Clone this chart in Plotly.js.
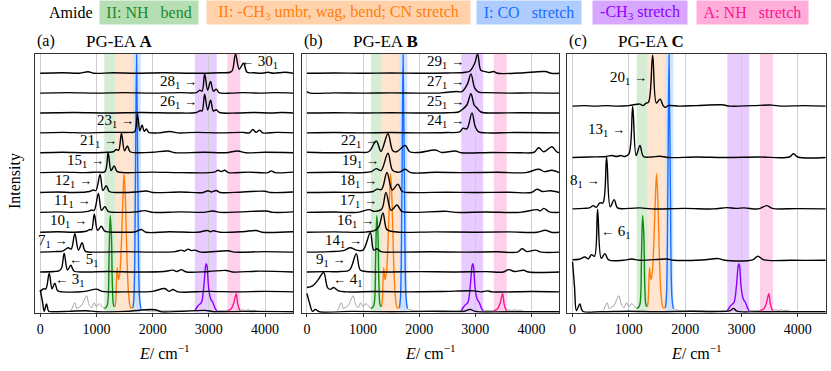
<!DOCTYPE html>
<html><head><meta charset="utf-8">
<script src="https://cdn.plot.ly/plotly-3.0.1.min.js"></script>
<style>html,body{margin:0;padding:0;background:#fff}#chart{width:831px;height:371px}</style>
</head><body><div id="chart"></div>
<script>
// ---------------- DATA ----------------
// Band limits (cm^-1) and names
const bandLo = [1140, 1330, 1650, 2750, 3330];
const bandHi = [1330, 1650, 1790, 3140, 3560];
const bandNames = ['II: NH\u00a0\u00a0\u00a0bend', 'II: -CH<sub>3</sub> umbr, wag, bend; CN stretch', 'I: CO\u00a0\u00a0\u00a0stretch', '-CH<sub>3</sub> stretch', 'A: NH\u00a0\u00a0\u00a0stretch'];

// IR reference spectrum [E, I]
const irSpec = [[540,0],[556,1],[615,8],[650,2],[675,3],[734,5],[793,12],[823,15],[870,6],[912,3],[960,8],[1000,4],[1049,7],[1090,5],[1119,3],[1140,2.5],[1165,3],[1195,6],[1225,55],[1245,95],[1267,75],[1284,25],[1308,5],[1330,4],[1344,10],[1368,43],[1391,31],[1415,37],[1439,60],[1470,110],[1492,137],[1516,110],[1545,50],[1575,15],[1610,3],[1650,3],[1668,14],[1693,122],[1714,256],[1738,122],[1765,14],[1790,2],[1900,0],[2300,0],[2750,0],[2807,5],[2866,8],[2908,23],[2943,45],[2955,47],[2967,45],[2996,23],[3031,12],[3073,8],[3114,2],[3140,0],[3330,0],[3398,2],[3445,8],[3487,17],[3516,6],[3546,1],[3560,0],[3600,1],[3650,0],[3700,1],[3750,0],[3800,0.5],[3850,0]];

// Panel A spectra (top to bottom) [E, I]
const a30 = [[0,0],[400,0.5],[700,0],[853,1.5],[950,0],[1300,0.5],[1700,0],[2200,0.5],[2700,0],[3200,0.5],[3380,1],[3420,3],[3475,19.5],[3540,4],[3617,10],[3680,1],[3800,0.5],[3950,0],[4050,1],[4150,0],[4350,1],[4500,0]];
const a28 = [[0,0],[500,0.5],[1000,0],[1500,0.5],[2000,0],[2500,0.5],[2780,0.5],[2840,3],[2880,2],[2925,19.5],[2978,3],[3031,11.7],[3080,2],[3132,4],[3180,0.5],[3400,0],[3600,0.5],[3900,0],[4200,0.5],[4500,0]];
const a26 = [[0,0],[600,0.5],[1200,0],[1800,0.5],[2400,0],[2780,0.5],[2850,2.5],[2880,2],[2925,18.7],[2978,3],[3031,12.7],[3080,2],[3132,3.3],[3190,0.5],[3500,0],[3800,0.5],[4100,0],[4300,0.5],[4500,0]];
const a23 = [[0,0],[400,0.5],[800,0],[1200,0.5],[1600,0.5],[1680,1],[1729,19],[1772,2],[1812,8],[1850,1.5],[1889,4],[1930,0.5],[2100,0],[2303,1.3],[2450,0],[2800,0.5],[3200,0],[3600,0.5],[3720,0],[3783,3.3],[3840,0.5],[3902,2.7],[3960,0],[4200,0.5],[4500,0]];
const a21 = [[0,0],[400,0.5],[800,0],[1200,0.5],[1300,1],[1356,3.3],[1395,2.5],[1445,19.3],[1500,2],[1551,6.7],[1600,1],[1750,0],[2000,0.5],[2273,1.7],[2400,0],[2900,0.5],[3300,0],[3517,1.7],[3650,0],[4000,0.5],[4500,0]];
const a15 = [[0,0],[400,0.5],[800,0],[1000,0.5],[1150,1],[1208,20],[1260,2],[1315,6.7],[1370,1],[1500,0],[2000,0.5],[2500,0],[3100,0.5],[3162,2.3],[3220,1],[3280,2.3],[3350,0],[3700,0.5],[4050,0],[4109,1.7],[4180,0],[4500,0.5]];
const a12 = [[0,0],[300,0.5],[600,0],[880,1],[941,2.5],[990,2],[1065,18],[1115,2],[1175,6.7],[1230,1],[1400,0],[1700,0.5],[1889,1.5],[2000,0],[2500,0.5],[2900,0],[2984,1.7],[3050,0.5],[3132,2],[3200,0],[3600,0.5],[3990,1.3],[4100,0],[4500,0.5]];
const a11 = [[0,0],[300,0.5],[600,0],[850,1],[912,2.3],[960,2],[1035,19],[1090,2],[1150,5.7],[1210,1],[1400,0],[1700,0.5],[1859,1.7],[2000,0],[2500,0.5],[2900,0],[3073,1.3],[3200,0],[3600,0.5],[4020,1.3],[4150,0],[4500,0.5]];
const a10 = [[0,0],[300,0.5],[600,0],[820,1],[882,2.7],[915,2.5],[962,18.3],[1020,2],[1089,6],[1150,1],[1400,0],[1700,0.5],[1800,2.7],[1880,0],[2300,0.5],[2800,0],[2970,1.7],[3030,0.5],[3080,1.5],[3200,0],[3600,0.5],[3842,1.7],[3950,0],[4500,0.5]];
const a7 = [[0,0],[250,0.5],[400,1],[497,4.3],[550,3],[616,18.3],[680,2],[746,9.3],[800,1],[1000,0],[1500,0.5],[2000,0],[2400,0.5],[2510,2],[2570,1],[2630,3],[2690,1.5],[2750,2],[2850,0],[3340,1.3],[3450,0],[4000,0.5],[4500,0]];
const a5 = [[0,0],[250,0.5],[330,1],[380,4],[426,18.7],[485,2],[545,6.7],[600,1],[800,0],[1200,0.5],[1700,0],[2200,0.5],[2362,1.8],[2430,0.5],[2510,2.3],[2600,0],[3000,0.5],[3310,1.5],[3420,0],[3900,0.8],[4500,0]];
const a3 = [[0,0],[53,3],[100,3],[160,18.7],[210,3],[260,8.7],[310,1],[400,0],[800,0.5],[1000,2.7],[1100,0.5],[1600,0],[2000,0.5],[2214,3.3],[2290,0.5],[2362,2.3],[2450,0],[3000,0.5],[3500,0],[4000,0.5],[4500,0]];
const aBot = [[0,21.7],[40,10],[71,0.5],[112,7.7],[150,0.5],[200,0],[500,0.3],[820,1],[1000,0],[1500,0.3],[2036,2],[2150,0],[2500,0.3],[2925,1.3],[3100,0],[3600,0.3],[4500,0]];
const labelsA = ['30','28','26','23','21','15','12','11','10','7','5','3'];
const dirA = ['left','right','right','right','right','right','right','right','right','right','left','left'];
const tipA = [3547, 2807, 2807, 1682, 1386, 1149, 942, 895, 853, 515, 498, 249];

// Panel B spectra (top to bottom)
const b29 = [[0,0],[500,0.3],[1000,0],[1500,0.3],[2000,0],[2500,0.3],[2793,0.8],[2900,2],[2990,10],[3042,19.3],[3100,3],[3179,1.7],[3250,0.8],[3327,1.7],[3400,0],[3800,0.3],[4248,1.7],[4350,0],[4500,0]];
const b27 = [[0,1.5],[60,0],[500,0.3],[1000,0],[1500,0.3],[2000,0],[2400,0.3],[2662,1.7],[2760,1.5],[2860,9],[2923,19.3],[2990,5],[3060,1],[3200,0.5],[3600,0],[4000,0.3],[4500,0]];
const b25 = [[0,0],[500,0.3],[1000,0],[1500,0.3],[2000,0],[2500,0.3],[2700,1],[2763,3.3],[2850,8],[2923,19.3],[2980,8],[3030,5],[3100,1],[3300,0],[3800,0.3],[4500,0]];
const b24 = [[0,0],[500,0.3],[1000,0],[1500,0.3],[2000,0],[2500,0.3],[2720,1],[2781,4.7],[2850,4],[2941,20],[3000,6],[3060,1],[3200,0],[3700,0.3],[4500,0]];
const b22 = [[0,0.5],[500,0],[900,0.5],[1100,1],[1236,11.7],[1320,1.5],[1444,19],[1530,2],[1600,1],[1753,7.3],[1830,1],[2000,0.3],[2288,2.7],[2400,0.3],[2644,1.7],[2750,0],[3300,0.3],[3800,0],[4050,0.5],[4130,5],[4220,1],[4367,6],[4450,1],[4500,0]];
const b19 = [[0,0],[500,0.3],[1000,0],[1150,1],[1236,4],[1320,2],[1444,19.3],[1530,2],[1650,0.5],[1753,3.3],[1850,0],[2300,0.3],[2800,0],[3400,0.3],[3900,0],[4130,3.3],[4230,1],[4367,2.3],[4500,0]];
const b18 = [[0,0],[500,0.3],[1000,0],[1180,1],[1248,3.3],[1330,3],[1426,20],[1520,2.5],[1622,8.3],[1700,1],[1850,0],[2500,0.3],[3000,0],[3600,0.3],[4000,0],[4100,3.3],[4200,1],[4337,1.7],[4500,0]];
const b17 = [[0,0],[500,0.3],[900,0],[1111,2.7],[1200,1],[1330,3],[1408,20],[1500,2],[1604,7.3],[1690,1],[1850,0],[2496,1],[2650,0],[3200,0.3],[3800,0],[4100,2.7],[4160,1.5],[4219,4],[4320,0.5],[4500,0]];
const b16 = [[0,0],[500,0.3],[1000,0],[1200,1.5],[1277,5],[1355,19.3],[1420,3],[1500,1],[1650,0],[2300,0.3],[3000,0],[3600,0.3],[4100,0],[4248,2],[4350,0],[4500,0]];
const b14 = [[0,0],[400,0.5],[650,1.5],[772,4.3],[880,2],[1000,2],[1129,19.3],[1190,2],[1248,3.3],[1320,0.5],[1600,0],[2200,0.3],[2800,0],[3400,0.3],[3750,0],[3832,3.3],[3920,0.5],[4070,2],[4180,0],[4500,0]];
const b9 = [[0,0],[300,0.3],[600,0.5],[760,2],[879,18.3],[950,2],[1050,0.5],[1400,0],[2000,0.3],[2600,0],[3200,0.3],[3500,0],[3595,2.3],[3700,0.5],[3862,1.7],[3950,0],[4500,0]];
const b4 = [[0,4.3],[100,6],[200,12],[297,19.3],[370,4],[420,2.5],[475,4.3],[560,1],[700,0],[1200,0.3],[1800,0],[2400,0.3],[2971,1],[3100,0],[3209,1],[3300,0],[4000,0.3],[4500,0]];
const bBot = [[0,18.3],[50,8],[100,0.3],[150,2.3],[220,0],[800,0.3],[1500,0],[2200,0.3],[2800,0.5],[2911,2.3],[3000,0.3],[3600,0],[4500,0]];
const labelsB = ['29','27','25','24','22','19','18','17','16','14','9','4'];
const dirB = ['right','right','right','right','right','right','right','right','right','right','right','left'];
const tipB = [2822, 2822, 2822, 2822, 1292, 1300, 1259, 1259, 1205, 998, 713, 446];

// Panel C spectra (top to bottom)
const c20 = [[0,0],[200,0.5],[400,0],[600,0.5],[800,0],[1000,0.5],[1198,2],[1250,0.5],[1300,2.7],[1350,4],[1423,51],[1490,3],[1554,7],[1610,0.5],[1643,-1.3],[1700,0.5],[1900,0],[2200,0.5],[2651,1.3],[2800,0],[3200,0.5],[3541,1],[3700,0],[4100,0.5],[4500,0]];
const c13 = [[0,0],[300,0.5],[600,1],[700,2],[780,1],[860,2],[930,1],[1002,3.7],[1068,51],[1130,2],[1198,12],[1260,1],[1400,0.5],[1554,1.3],[1700,0],[2200,0.5],[2700,0],[3300,0.5],[3850,0.5],[3926,3.7],[4000,0.5],[4500,0]];
const c8 = [[0,0],[200,0.5],[300,1],[368,3.3],[420,1.5],[486,6],[540,6],[605,52],[670,2],[741,9.3],[800,1],[1000,0.5],[1200,1],[1400,0],[2000,0.5],[2500,0],[2740,1.3],[2900,0.5],[3050,1],[3300,0],[3452,3.3],[3550,0.5],[4000,0.3],[4500,0]];
const c6 = [[0,0.5],[120,1],[219,3.3],[280,1.5],[338,5.7],[390,4],[445,51],[510,2],[575,6.7],[640,0.5],[900,0],[1050,1.3],[1200,0],[1673,1.3],[1800,0],[2300,0.3],[2592,1.7],[2700,0],[3200,0.5],[3292,4],[3400,0.5],[3900,0],[4500,0]];
const cBot = [[0,50],[35,25],[70,1],[130,7.7],[180,0.5],[500,0],[1000,0.5],[1500,0],[2100,0.5],[2500,0],[2800,1],[2859,3.3],[2920,0.5],[3300,0],[4500,0]];
const labelsC = ['20','13','8','6'];
const dirC = ['right','right','right','left'];
const tipC = [1346, 948, 505, 486];

const xTicks = [0, 1000, 2000, 3000, 4000];

// ---------------- STYLE / LAYOUT ----------------
const W = 831, H = 371;
const FONT = 'Liberation Serif, Times New Roman, serif';
const bandRGB = ['44,160,44', '255,127,14', '25,110,255', '140,0,255', '255,20,147'];
const lineCol = ['#138a13', '#ff7f0e', '#1a6eff', '#8c00ff', '#ff1493'];
const textCol = ['#1e8a1e', '#ff7f0e', '#1a6eff', '#8c00ff', '#ff1493'];
const ARR_R = '<span style="font-size:13px">\u2192</span>';
const ARR_L = '<span style="font-size:13px">\u2190</span>';

const panels = [
  {spec:[a30,a28,a26,a23,a21,a15,a12,a11,a10,a7,a5,a3], bot:aBot, labels:labelsA, dir:dirA, tip:tipA, step:19.87, lab:11.5, px:[35,293], tag:'(a)', name:'A'},
  {spec:[b29,b27,b25,b24,b22,b19,b18,b17,b16,b14,b9,b4], bot:bBot, labels:labelsB, dir:dirB, tip:tipB, step:19.87, lab:11.5, px:[301.7,559.3], tag:'(b)', name:'B'},
  {spec:[c20,c13,c8,c6], bot:cBot, labels:labelsC, dir:dirC, tip:tipC, step:51.4, lab:28, px:[567.3,825.7], tag:'(c)', name:'C'}
];
const yTopPx = 54, yBotPx = 312.7;
const yDom = [1 - yBotPx/H, 1 - yTopPx/H];

const traces = [];
const shapes = [];
const annotations = [];
const layout = {
  width: W, height: H, margin:{l:0,r:0,t:0,b:0}, showlegend:false,
  paper_bgcolor:'#fff', plot_bgcolor:'rgba(0,0,0,0)',
  font:{family:FONT, color:'#000'}
};

function seg(lo, hi) {
  const xs = [], ys = [];
  irSpec.forEach(p => { if (p[0] >= lo && p[0] <= hi) { xs.push(p[0]); ys.push(p[1] + 1); } });
  return {xs, ys};
}
const graySegs = [[0,1140],[1790,2750],[3140,3330],[3560,4500]];

panels.forEach((P, pi) => {
  const sfx = pi === 0 ? '' : String(pi + 1);
  const xa = 'x' + sfx, ya = 'y' + sfx;
  layout['xaxis' + sfx] = {
    domain:[P.px[0]/W, P.px[1]/W], anchor: ya, range:[-93, 4497],
    tickvals: xTicks, ticktext: xTicks.map(String), ticks:'outside', ticklen:3, tickcolor:'#333',
    showgrid:true, gridcolor:'#cfcfcf', gridwidth:1, zeroline:false,
    showline:true, mirror:true, linecolor:'#333', linewidth:1,
    tickfont:{family:FONT, size:14, color:'#000'}, fixedrange:true
  };
  layout['yaxis' + sfx] = {
    domain: yDom, anchor: xa, range:[-1, 257.7],
    showticklabels:false, ticks:'', showgrid:false, zeroline:false,
    showline:true, mirror:true, linecolor:'#333', linewidth:1, fixedrange:true
  };
  // bands
  bandLo.forEach((lo, k) => {
    shapes.push({type:'rect', xref:xa, yref: ya + ' domain', x0:lo, x1:bandHi[k], y0:0, y1:1,
      fillcolor:'rgba(' + bandRGB[k] + ',0.2)', line:{width:0}, layer:'below'});
  });
  // IR spectrum: gray parts and coloured parts
  graySegs.forEach(g => {
    const s = seg(g[0], g[1]);
    traces.push({x:s.xs, y:s.ys, xaxis:xa, yaxis:ya, mode:'lines', line:{color:'#9a9a9a', width:0.9, shape:'spline', smoothing:1}, hoverinfo:'skip'});
  });
  bandLo.forEach((lo, k) => {
    const s = seg(lo, bandHi[k]);
    traces.push({x:s.xs, y:s.ys, xaxis:xa, yaxis:ya, mode:'lines', line:{color:lineCol[k], width:1.4, shape:'spline', smoothing:1}, hoverinfo:'skip'});
  });
  // bottom black trace
  traces.push({x:P.bot.map(p=>p[0]), y:P.bot.map(p=>p[1]), xaxis:xa, yaxis:ya, mode:'lines', line:{color:'#000', width:1.4, shape:'spline', smoothing:1}, hoverinfo:'skip'});
  const n = P.spec.length;
  P.spec.forEach((sp, i) => {
    const off = (n - i) * P.step;
    traces.push({x:sp.map(p=>p[0]), y:sp.map(p=>p[1] + off), xaxis:xa, yaxis:ya, mode:'lines', line:{color:'#000', width:1.4, shape:'spline', smoothing:1}, hoverinfo:'skip'});
    const lbl = P.labels[i] + '<sub>1</sub>';
    const left = P.dir[i] === 'left';
    annotations.push({xref:xa, yref:ya, x:P.tip[i], y: off + P.lab, showarrow:false,
      text: left ? ARR_L + ' ' + lbl : lbl + ' ' + ARR_R, xanchor: left ? 'left' : 'right', yanchor:'middle',
      font:{family:FONT, size:15, color:'#000'}, borderpad:0});
  });
  // panel headers
  annotations.push({xref:'paper', yref:'paper', x:(P.px[0])/W, y:1 - 41/H, text:P.tag, showarrow:false, xanchor:'left', yanchor:'middle', font:{family:FONT, size:16}});
  annotations.push({xref:'paper', yref:'paper', x:(P.px[0] + 49)/W, y:1 - 41/H, text:'PG-EA <b>' + P.name + '</b>', showarrow:false, xanchor:'left', yanchor:'middle', font:{family:FONT, size:17}});
  // x title
  annotations.push({xref:'paper', yref:'paper', x:(P.px[0] + P.px[1]) / 2 / W, y:1 - 352/H, text:'<i>E</i>/ cm<sup>\u22121</sup>', showarrow:false, xanchor:'center', yanchor:'middle', font:{family:FONT, size:16}});
});

// y title
annotations.push({xref:'paper', yref:'paper', x:15/W, y:1 - 181/H, text:'Intensity', textangle:-90, showarrow:false, xanchor:'center', yanchor:'middle', font:{family:FONT, size:16}});

// Top legend
annotations.push({xref:'paper', yref:'paper', x:71/W, y:1 - 12/H, text:'Amide', showarrow:false, xanchor:'center', yanchor:'middle', font:{family:FONT, size:16}});
const legBoxes = [[100,198],[207,470],[477,581],[593,687],[697,808]];
bandNames.forEach((nm, k) => {
  const b = legBoxes[k];
  annotations.push({xref:'paper', yref:'paper', x:(b[0] + b[1]) / 2 / W, y:1 - 12/H, text:nm, showarrow:false,
    xanchor:'center', yanchor:'middle', width:b[1] - b[0] - 4, height:19, borderpad:2,
    bgcolor:'rgba(' + bandRGB[k] + ',0.35)', font:{family:FONT, size:16, color:textCol[k]}});
});

layout.shapes = shapes;
layout.annotations = annotations;
Plotly.newPlot('chart', traces, layout, {staticPlot:true, displayModeBar:false});
</script></body></html>
